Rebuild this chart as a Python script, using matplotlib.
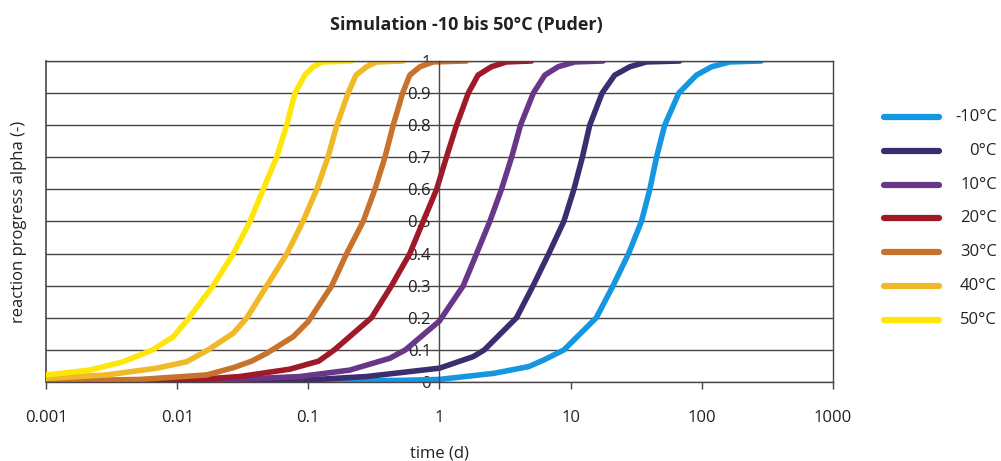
import numpy as np
import matplotlib
matplotlib.use("Agg")
import matplotlib.pyplot as plt
from matplotlib.lines import Line2D

plt.rcParams['font.family'] = ['Open Sans', 'DejaVu Sans']

labels = ['-10°C', '0°C', '10°C', '20°C', '30°C', '40°C', '50°C']
colors = ['#1596e0', '#3c2d6e', '#693787', '#a01928', '#c8732d', '#f0b928', '#ffe60a']

# time (d) / alpha
t_m10 = [0.01, 0.1, 0.5, 1.0, 2.6, 4.8, 6.35, 8.9, 15.7, 21.1, 27.7, 34.7, 40.2, 45.2, 52.2, 66.9, 91.2, 119, 163, 285]
a_m10 = [0.0, 0.002, 0.005, 0.008, 0.027, 0.048, 0.07, 0.1, 0.2, 0.3, 0.4, 0.5, 0.6, 0.7, 0.8, 0.9, 0.956, 0.982, 0.997, 1.0]

t_0 = [0.001, 0.036, 0.086, 0.278, 1.0, 1.81, 2.2, 3.87, 5.18, 6.82, 8.88, 10.6, 12.3, 14.0, 17.4, 21.7, 28.3, 37.9, 67.9]
a_0 = [0.0, 0.002, 0.005, 0.017, 0.043, 0.079, 0.1, 0.2, 0.3, 0.4, 0.5, 0.6, 0.7, 0.8, 0.9, 0.956, 0.982, 0.997, 1.0]

t_10 = [0.001, 0.0149, 0.0863, 0.207, 0.419, 0.55, 1.0, 1.52, 1.92, 2.42, 2.97, 3.55, 4.15, 5.2, 6.36, 8.03, 10.8, 17.7]
a_10 = [0.0, 0.003, 0.017, 0.037, 0.074, 0.1, 0.19, 0.3, 0.4, 0.5, 0.6, 0.7, 0.8, 0.9, 0.956, 0.982, 0.997, 1.0]

t_20 = [0.001, 0.0093, 0.0301, 0.0724, 0.12, 0.158, 0.303, 0.431, 0.594, 0.751, 0.951, 1.13, 1.35, 1.66, 1.97, 2.49, 3.25, 5.04]
a_20 = [0.0, 0.003, 0.017, 0.04, 0.065, 0.1, 0.2, 0.3, 0.4, 0.5, 0.6, 0.7, 0.8, 0.9, 0.956, 0.982, 0.997, 1.0]

t_30 = [0.001, 0.0052, 0.0168, 0.027, 0.037, 0.048, 0.0767, 0.0998, 0.151, 0.196, 0.262, 0.322, 0.384, 0.444, 0.524, 0.594, 0.71, 0.895, 1.61]
a_30 = [0.003, 0.008, 0.022, 0.045, 0.065, 0.089, 0.141, 0.188, 0.3, 0.4, 0.5, 0.6, 0.7, 0.8, 0.9, 0.956, 0.982, 0.997, 1.0]

t_40 = [0.001, 0.0029, 0.00698, 0.0118, 0.0172, 0.0268, 0.034, 0.0483, 0.0687, 0.091, 0.116, 0.141, 0.165, 0.201, 0.231, 0.278, 0.331, 0.528]
a_40 = [0.011, 0.022, 0.043, 0.063, 0.1, 0.152, 0.2, 0.3, 0.4, 0.5, 0.6, 0.7, 0.8, 0.9, 0.956, 0.982, 0.997, 1.0]

t_50 = [0.001, 0.00216, 0.00387, 0.0065, 0.00933, 0.0118, 0.0188, 0.0268, 0.0359, 0.0453, 0.0573, 0.0684, 0.0791, 0.0942, 0.109, 0.129, 0.214]
a_50 = [0.022, 0.037, 0.063, 0.1, 0.141, 0.19, 0.3, 0.4, 0.5, 0.6, 0.7, 0.8, 0.9, 0.956, 0.982, 0.997, 1.0]

times = [t_m10, t_0, t_10, t_20, t_30, t_40, t_50]
alphas = [a_m10, a_0, a_10, a_20, a_30, a_40, a_50]

x_ticks = [0.001, 0.01, 0.1, 1, 10, 100, 1000]
x_ticklabels = ['0.001', '0.01', '0.1', '1', '10', '100', '1000']
y_ticks = [0, 0.1, 0.2, 0.3, 0.4, 0.5, 0.6, 0.7, 0.8, 0.9, 1.0]
y_ticklabels = ['0', '0.1', '0.2', '0.3', '0.4', '0.5', '0.6', '0.7', '0.8', '0.9', '1']

grid_col = '#4a4448'
text_col = '#222222'

fig = plt.figure(figsize=(10.01, 4.61), dpi=100)
ax = fig.add_axes([0.046, 0.1714, 0.786, 0.6963])

for t, a, lab, c in zip(times, alphas, labels, colors):
    ax.plot(t, a, color=c, lw=4, label=lab, solid_capstyle='round', solid_joinstyle='round')

ax.set_xscale('log')
ax.set_xlim(0.001, 1000)
ax.set_ylim(0, 1)
ax.set_xticks(x_ticks)
ax.set_xticklabels(x_ticklabels)
ax.minorticks_off()
ax.set_yticks(y_ticks)
ax.set_yticklabels(y_ticklabels)

ax.yaxis.grid(True, color=grid_col, lw=1)
ax.set_axisbelow(True)

# y axis sits at t = 1, box kept around the plot
ax.spines['left'].set_position(('data', 1))
for s in ax.spines.values():
    s.set_color(grid_col)
    s.set_linewidth(1)
ax.axvline(0.001, color=grid_col, lw=1.2, clip_on=False, zorder=0.5)

ax.tick_params(axis='x', direction='out', length=5, width=1, color=grid_col,
               pad=15, labelsize=12, labelcolor=text_col)
ax.tick_params(axis='y', length=0, pad=6, labelsize=12, labelcolor=text_col)

ax.set_xlabel('time (d)', fontsize=12, color=text_col, labelpad=14)
ax.set_ylabel('reaction progress alpha (-)', fontsize=12, color=text_col)
ax.yaxis.set_label_coords(-0.024, 0.5)

fig.text(0.4655, 0.946, 'Simulation -10 bis 50°C (Puder)', ha='center', va='center',
         fontsize=13, fontweight='bold', color=text_col)

# legend on the right, labels right-aligned
W, H = 1001, 461
for i, (lab, c) in enumerate(zip(labels, colors)):
    yc = 1 - (117 + i * 33.8) / H
    fig.add_artist(Line2D([884 / W, 939 / W], [yc, yc], color=c, lw=4.5,
                          solid_capstyle='round', transform=fig.transFigure))
    fig.text(997 / W, yc, lab, ha='right', va='center', fontsize=12, color=text_col)

fig.savefig('out.png', dpi=100)
